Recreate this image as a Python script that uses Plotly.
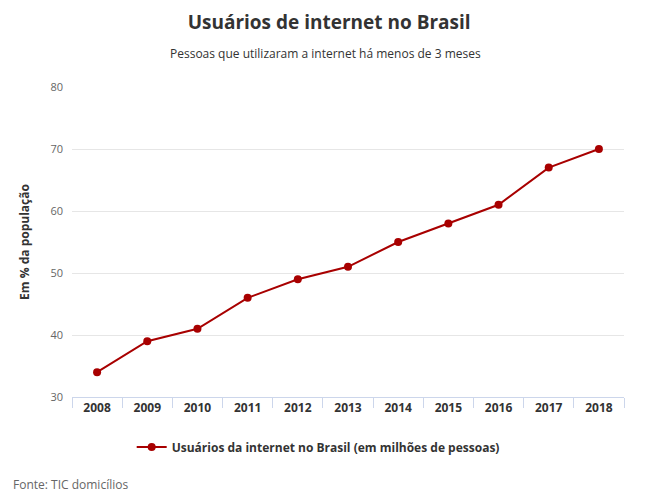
"""Usuários de internet no Brasil - line chart recreated with plotly."""
import plotly.graph_objects as go

# Data
years = ['2008', '2009', '2010', '2011', '2012', '2013',
         '2014', '2015', '2016', '2017', '2018']
usuarios = [34, 39, 41, 46, 49, 51, 55, 58, 61, 67, 70]
y_ticks = [30, 40, 50, 60, 70, 80]

FONT = 'Open Sans'
RED = '#a80000'

fig = go.Figure()
fig.add_trace(go.Scatter(
    x=years, y=usuarios,
    mode='lines+markers',
    name='Usuários da internet no Brasil (em milhões de pessoas)',
    line=dict(color=RED, width=2),
    marker=dict(color=RED, size=8),
))

# the page puts the figure 8px in from the top/left, so margins compensate
fig.update_layout(
    width=658, height=500,
    paper_bgcolor='white', plot_bgcolor='white',
    font=dict(family=FONT, size=12, color='#333333'),
    margin=dict(l=64, r=42, t=79, b=111),
    title=dict(text='<b>Usuários de internet no Brasil</b>',
               x=0.488, xanchor='center', y=0.972, yanchor='middle',
               font=dict(family=FONT, size=19, color='#333333')),
    showlegend=True,
    legend=dict(orientation='h', x=0.446, xanchor='center', y=-0.161, yanchor='middle',
                itemwidth=30,
                font=dict(family=FONT, size=12, color='#333333', weight='bold')),
    xaxis=dict(type='category', range=[-0.5, 10.5],
               tickson='boundaries', ticks='outside', ticklen=10,
               tickcolor='#ccd6eb', showline=True, linecolor='#ccd6eb',
               showgrid=False,
               tickfont=dict(family=FONT, size=12, color='#333333', weight='bold')),
    yaxis=dict(range=[30, 80], tickvals=y_ticks, showgrid=True,
               gridcolor='#e6e6e6', zeroline=False, showline=False,
               ticks='', ticklabelstandoff=8,
               tickfont=dict(family=FONT, size=11, color='#666666'),
               title=dict(text='<b>Em % da população</b>', standoff=18,
                          font=dict(family=FONT, size=12, color='#333333'))),
    annotations=[
        dict(text='Pessoas que utilizaram a internet há menos de 3 meses',
             xref='paper', yref='paper', x=0.46, y=1.0, xanchor='center',
             yanchor='middle', yshift=34, showarrow=False,
             font=dict(family=FONT, size=12, color='#333333')),
        dict(text='Fonte: TIC domicílios', xref='paper', yref='paper',
             x=0, xanchor='left', y=0, yanchor='middle', xshift=-61,
             yshift=-87, showarrow=False,
             font=dict(family=FONT, size=12, color='#666666')),
    ],
)

fig.write_html('out.html')
